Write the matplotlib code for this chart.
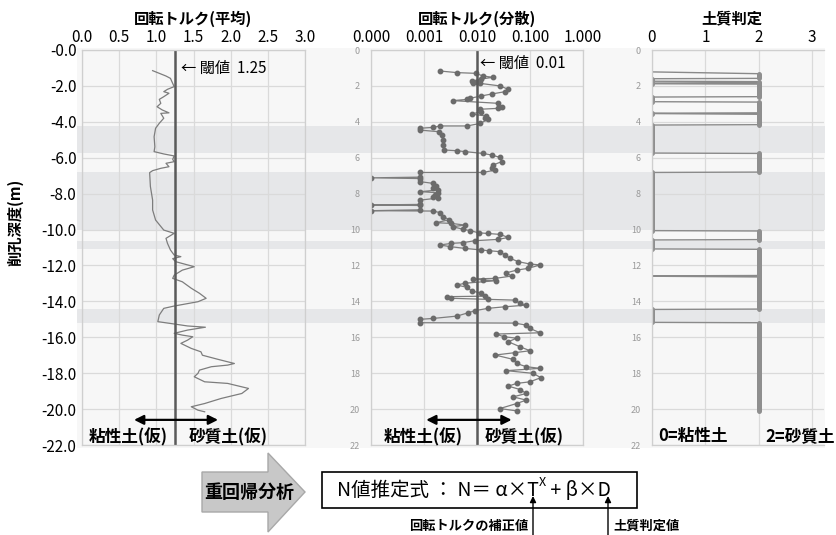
"""Boring log: rotation torque mean / variance / soil judgement + N-value formula."""

import matplotlib
import matplotlib.pyplot as plt
import numpy as np
from matplotlib.patches import Polygon, Rectangle

matplotlib.use("Agg")

plt.rcParams["font.family"] = ["Noto Sans CJK JP", "DejaVu Sans"]
plt.rcParams["axes.unicode_minus"] = False

W, H = 836, 535

# ---- data -------------------------------------------------------------
# clay (粘性土) depth bands, m
BAND_TOP = [4.23, 6.80, 10.65, 14.45]
BAND_BOTTOM = [5.73, 10.05, 11.08, 15.22]

# panel 1: rotation torque (mean)
MEAN_DEPTH = [1.15, 1.45, 1.58, 1.95, 2.04, 2.19, 2.32, 2.41, 2.60, 2.75, 2.97,
              3.16, 3.34, 3.50, 3.53, 3.80, 4.08, 4.36, 4.83, 5.39, 5.66, 5.79,
              5.90, 6.09, 6.22, 6.31, 6.50, 6.59, 6.72, 6.83, 7.60, 8.36, 8.91,
              9.47, 10.03, 10.21, 10.49, 10.77, 11.14, 11.42, 11.51, 11.62, 11.79,
              12.07, 12.26, 12.54, 12.72, 12.91, 13.27, 13.55, 13.83, 14.02,
              14.26, 14.39, 14.76, 15.13, 15.26, 15.37, 15.44, 15.60, 15.78,
              15.88, 15.97, 16.16, 16.34, 16.62, 16.81, 17.00, 17.23, 17.46,
              17.55, 17.64, 17.83, 18.01, 18.20, 18.48, 18.57, 18.85, 19.13,
              19.41, 19.69, 19.87, 20.06, 20.15]
MEAN_VALUE = [0.95, 1.13, 1.19, 1.23, 1.24, 1.15, 1.10, 1.17, 1.10, 1.04, 1.06,
              1.01, 1.08, 1.17, 1.06, 1.10, 1.04, 0.99, 0.97, 0.98, 0.97, 1.10,
              1.24, 1.22, 1.24, 1.13, 1.17, 1.06, 0.95, 0.91, 0.92, 0.95, 0.95,
              0.99, 1.10, 1.24, 1.13, 1.15, 1.19, 1.24, 1.33, 1.22, 1.26,
              1.51, 1.35, 1.24, 1.22, 1.35, 1.47, 1.58, 1.67, 1.56,
              1.24, 1.10, 1.04, 1.02, 1.24, 1.42, 1.66, 1.42, 1.24,
              1.35, 1.49, 1.42, 1.33, 1.47, 1.60, 1.62, 1.83, 2.05,
              1.96, 1.74, 1.58, 1.56, 1.51, 1.65, 1.96, 2.24, 2.15,
              1.87, 1.65, 1.47, 1.56, 1.65]
MEAN_THRESHOLD = 1.25

# panel 2: rotation torque (variance); 0 = off-scale low
VAR_DEPTH = [1.17, 1.26, 1.30, 1.45, 1.52, 1.62, 1.73, 1.76, 1.82, 1.86, 2.00,
             2.19, 2.32, 2.45, 2.56, 2.69, 2.75, 2.82, 2.97, 3.16, 3.25, 3.30,
             3.43, 3.57, 3.68, 3.81, 3.86, 4.09, 4.23, 4.23, 4.31, 4.36, 4.46,
             4.55, 4.74, 5.01, 5.29, 5.57, 5.61, 5.66, 5.76, 5.85, 5.98, 6.22,
             6.41, 6.59, 6.69, 6.82, 6.82, 7.08, 7.12, 7.16, 7.33, 7.43, 7.60,
             7.71, 7.80, 7.89, 7.95, 8.05, 8.17, 8.25, 8.36, 8.60, 8.63, 8.66,
             8.90, 8.95, 8.97, 9.06, 9.28, 9.45, 9.62, 9.66, 9.75, 9.84, 9.99,
             10.06, 10.18, 10.22, 10.27, 10.44, 10.55, 10.62, 10.73, 10.77,
             10.86, 10.95, 11.05, 11.14, 11.18, 11.23, 11.42, 11.60, 11.79,
             11.92, 11.97, 12.16, 12.26, 12.41, 12.59, 12.72, 12.75, 12.81,
             12.85, 12.99, 13.09, 13.22, 13.41, 13.55, 13.71, 13.74, 13.83,
             13.89, 13.93, 14.11, 14.21, 14.30, 14.39, 14.52, 14.63, 14.82,
             14.95, 15.00, 15.19, 15.21, 15.32, 15.51, 15.75, 15.82, 15.97,
             16.05, 16.25, 16.53, 16.75, 16.86, 16.99, 17.23, 17.46, 17.64,
             17.73, 17.86, 18.01, 18.25, 18.48, 18.57, 18.72, 18.91, 19.13,
             19.32, 19.50, 19.69, 19.97, 20.10]
VAR_VALUE = [0.0020, 0.0042, 0.0095, 0.013, 0.020, 0.012, 0.0079, 0.0100, 0.0085,
             0.0115, 0.027, 0.039, 0.034, 0.019, 0.012, 0.0074, 0.0065, 0.0035,
             0.025, 0.029, 0.025, 0.0115, 0.012, 0.0079, 0.015, 0.014, 0.016,
             0.0115, 0.0065, 0.0020, 0.0015, 0.00083, 0.00083, 0.0019, 0.0022,
             0.0023, 0.0023, 0.0024, 0.0042, 0.0059, 0.013, 0.019, 0.027, 0.029,
             0.020, 0.019, 0.022, 0.013, 0.00085, 0.00085, 0.0, 0.00085,
             0.00083, 0.0015, 0.0017, 0.0015, 0.0018, 0.00085, 0.0018, 0.0016,
             0.0015, 0.0018, 0.00085, 0.00085, 0.0, 0.00085, 0.00085, 0.0,
             0.0015, 0.0020, 0.0023, 0.0030, 0.0017, 0.0033, 0.0059, 0.0035,
             0.0055, 0.0074, 0.0107, 0.016, 0.027, 0.039, 0.025, 0.0091,
             0.0055, 0.0033, 0.0020, 0.0031, 0.0059, 0.012, 0.017, 0.027,
             0.034, 0.042, 0.060, 0.10, 0.155, 0.093, 0.056, 0.036, 0.045,
             0.022, 0.0085, 0.013, 0.023, 0.0059, 0.0042, 0.0065, 0.0079,
             0.012, 0.014, 0.0027, 0.0033, 0.016, 0.051, 0.065, 0.085, 0.034,
             0.016, 0.0091, 0.0069, 0.0042, 0.0015, 0.00085, 0.00085, 0.051,
             0.085, 0.10, 0.155, 0.023, 0.032, 0.056, 0.039, 0.065, 0.10,
             0.051, 0.022, 0.048, 0.056, 0.085, 0.155, 0.036, 0.115, 0.16,
             0.10, 0.056, 0.039, 0.065, 0.085, 0.048, 0.085, 0.056, 0.027,
             0.056]
VAR_THRESHOLD = 0.01

# panel 3: soil judgement runs (0 = clay, 2 = sand)
SOIL_TOP = [1.20, 1.32, 1.60, 1.76, 1.84, 1.90, 2.62, 2.90, 3.52, 3.58, 4.18,
            5.76, 6.82, 10.08, 10.58, 11.10, 12.58, 12.64, 14.45, 15.19]
SOIL_BOTTOM = [1.22, 1.58, 1.74, 1.82, 1.88, 2.60, 2.88, 3.50, 3.54, 4.16, 5.74,
               6.80, 10.06, 10.56, 11.08, 12.56, 12.60, 14.43, 15.17, 20.10]
SOIL_CLASS = [0, 2, 0, 2, 0, 2, 0, 2, 0, 2, 0, 2, 0, 2, 0, 2, 0, 2, 0, 2]

MEAN_TICKS = [0.0, 0.5, 1.0, 1.5, 2.0, 2.5, 3.0]
VAR_TICKS = [1e-4, 1e-3, 1e-2, 1e-1, 1.0]
VAR_TICK_LABELS = ["0.000", "0.001", "0.010", "0.100", "1.000"]
SOIL_TICKS = [0, 1, 2, 3]
DEPTH_TICKS = list(range(0, 23, 2))

GRID = "#dadada"
EDGE = "#cfcfcf"
LINE = "#7d7d7d"
DARK = "#5a5a5a"


def px_axes(fig, x0, y0, x1, y1):
    return fig.add_axes([x0 / W, 1 - y1 / H, (x1 - x0) / W, (y1 - y0) / H])


def style_panel(ax):
    ax.set_facecolor("none")
    ax.xaxis.tick_top()
    ax.tick_params(length=0)
    ax.grid(True, color=GRID, lw=0.9)
    ax.set_axisbelow(True)
    for s in ax.spines.values():
        s.set_color(EDGE)
        s.set_linewidth(0.9)


def main() -> None:
    fig = plt.figure(figsize=(W / 100, H / 100), dpi=100)

    # shared background with clay bands
    bg = px_axes(fig, 77, 48, 825, 448)
    bg.set_facecolor("#f7f7f7")
    bg.set_xlim(0, 1)
    bg.set_ylim((448 - 50) / 17.95, (48 - 50) / 17.95)
    bg.set_xticks([])
    bg.set_yticks([])
    for s in bg.spines.values():
        s.set_visible(False)
    for top, bot in zip(BAND_TOP, BAND_BOTTOM):
        bg.axhspan(top, bot, color="#e6e7e9", lw=0)

    # ---- panel 1: mean ----
    ax1 = px_axes(fig, 82, 50, 305, 445)
    style_panel(ax1)
    ax1.plot(MEAN_VALUE, -np.array(MEAN_DEPTH), color=LINE, lw=0.9)
    ax1.axvline(MEAN_THRESHOLD, color=DARK, lw=1.8)
    ax1.set_xlim(0, 3)
    ax1.set_ylim(-22, 0)
    ax1.set_xticks(MEAN_TICKS)
    ax1.set_xticklabels([f"{v:.1f}" for v in MEAN_TICKS], fontsize=11)
    ax1.set_yticks([-d for d in DEPTH_TICKS])
    ax1.set_yticklabels([f"-{d:.1f}" for d in DEPTH_TICKS], fontsize=11)
    ax1.tick_params(axis="x", pad=3)
    ax1.tick_params(axis="y", pad=4)
    ax1.set_title("回転トルク(平均)", fontsize=11, fontweight="bold", pad=19)
    ax1.text(1.33, -1.0, "← 閾値  1.25", fontsize=11, va="center")
    ax1.annotate("", xy=(0.70, -20.6), xytext=(1.83, -20.6),
                 arrowprops=dict(arrowstyle="<|-|>", color="black", lw=1.6,
                                 mutation_scale=14, shrinkA=0, shrinkB=0))
    ax1.text(0.62, -21.55, "粘性土(仮)", fontsize=12, fontweight="bold",
             ha="center", va="center")
    ax1.text(1.97, -21.55, "砂質土(仮)", fontsize=12, fontweight="bold",
             ha="center", va="center")

    # ---- panel 2: variance (log) ----
    ax2 = px_axes(fig, 371, 50, 583, 445)
    style_panel(ax2)
    var = np.clip(np.array(VAR_VALUE), 1e-4, None)
    ax2.plot(var, VAR_DEPTH, color=LINE, lw=0.9, marker="o", ms=3.2,
             mfc="#6b6b6b", mec="#6b6b6b")
    ax2.axvline(VAR_THRESHOLD, color=DARK, lw=1.8)
    ax2.set_xscale("log")
    ax2.set_xlim(1e-4, 1.0)
    ax2.set_ylim(22, 0)
    ax2.set_xticks(VAR_TICKS)
    ax2.set_xticklabels(VAR_TICK_LABELS, fontsize=11)
    ax2.xaxis.set_minor_locator(matplotlib.ticker.NullLocator())
    ax2.set_yticks(DEPTH_TICKS)
    ax2.set_yticklabels([str(d) for d in DEPTH_TICKS], fontsize=6.5,
                        color="#9a9a9a")
    ax2.tick_params(axis="x", pad=3)
    ax2.tick_params(axis="y", pad=8)
    ax2.set_title("回転トルク(分散)", fontsize=11, fontweight="bold", pad=19)
    ax2.text(0.0115, 0.75, "← 閾値  0.01", fontsize=11, va="center")
    ax2.annotate("", xy=(0.0011, 20.6), xytext=(0.045, 20.6),
                 arrowprops=dict(arrowstyle="<|-|>", color="black", lw=1.6,
                                 mutation_scale=14, shrinkA=0, shrinkB=0))
    ax2.text(0.00095, 21.55, "粘性土(仮)", fontsize=12, fontweight="bold",
             ha="center", va="center")
    ax2.text(0.078, 21.55, "砂質土(仮)", fontsize=12, fontweight="bold",
             ha="center", va="center")

    # ---- panel 3: soil judgement ----
    ax3 = px_axes(fig, 652, 50, 824, 445)
    style_panel(ax3)
    ax3.spines["right"].set_visible(False)
    xs, ys = [], []
    for top, bot, c in zip(SOIL_TOP, SOIL_BOTTOM, SOIL_CLASS):
        xs += [c, c]
        ys += [top, bot]
    ax3.plot(xs, ys, color="#8a8a8a", lw=1.0)
    for top, bot, c in zip(SOIL_TOP, SOIL_BOTTOM, SOIL_CLASS):
        ax3.plot([c, c], [top, bot], color="#8f8f8f", lw=3.6,
                 solid_capstyle="round")
    ax3.set_xlim(0, 3.22)
    ax3.set_ylim(22, 0)
    ax3.set_xticks(SOIL_TICKS)
    ax3.set_xticklabels([str(v) for v in SOIL_TICKS], fontsize=11)
    ax3.set_yticks(DEPTH_TICKS)
    ax3.set_yticklabels([str(d) for d in DEPTH_TICKS], fontsize=6.5,
                        color="#9a9a9a")
    ax3.tick_params(axis="x", pad=3)
    ax3.tick_params(axis="y", pad=8)
    ax3.set_title("土質判定", fontsize=11, fontweight="bold", pad=19,
                  x=80 / 172)
    ax3.text(0.77, 21.5, "0=粘性土", fontsize=12, fontweight="bold",
             ha="center", va="center")
    ax3.text(2.78, 21.5, "2=砂質土", fontsize=12, fontweight="bold",
             ha="center", va="center")

    fig.text(15 / W, 1 - 222 / H, "削孔深度(m)", rotation=90, fontsize=11,
             fontweight="bold", ha="center", va="center")

    # ---- bottom: regression formula ----
    ov = fig.add_axes([0, 0, 1, 1])
    ov.set_xlim(0, W)
    ov.set_ylim(H, 0)
    ov.axis("off")
    ov.add_patch(Polygon([(202, 472), (268, 472), (268, 453), (305, 492),
                          (268, 532), (268, 512), (202, 512)],
                         closed=True, fc="#c8c8c8", ec="#a8a8a8", lw=1))
    ov.text(249, 492, "重回帰分析", fontsize=13, fontweight="bold",
            ha="center", va="center")
    ov.add_patch(Rectangle((322, 472), 315, 36, fc="white", ec="black", lw=1.2))
    t1 = ov.text(337, 490, "N値推定式 ： N＝ α×T", fontsize=14, va="center")
    t2 = ov.annotate("X", xy=(1, 0.55), xycoords=t1, fontsize=9, va="bottom")
    ov.annotate(" + β×D", xy=(1, 0.5), xycoords=(t2, t1), fontsize=14,
                va="center")
    ov.annotate("", xy=(533, 496), xytext=(533, 540),
                arrowprops=dict(arrowstyle="-|>", color="black", lw=1,
                                mutation_scale=9, shrinkA=0, shrinkB=0))
    ov.annotate("", xy=(608, 496), xytext=(608, 540),
                arrowprops=dict(arrowstyle="-|>", color="black", lw=1,
                                mutation_scale=9, shrinkA=0, shrinkB=0))
    ov.text(528, 526, "回転トルクの補正値", fontsize=9.5, fontweight="bold",
            ha="right", va="center")
    ov.text(613, 526, "土質判定値", fontsize=9.5, fontweight="bold",
            ha="left", va="center")

    fig.savefig("out.png", dpi=100)
    plt.close(fig)


if __name__ == "__main__":
    main()
